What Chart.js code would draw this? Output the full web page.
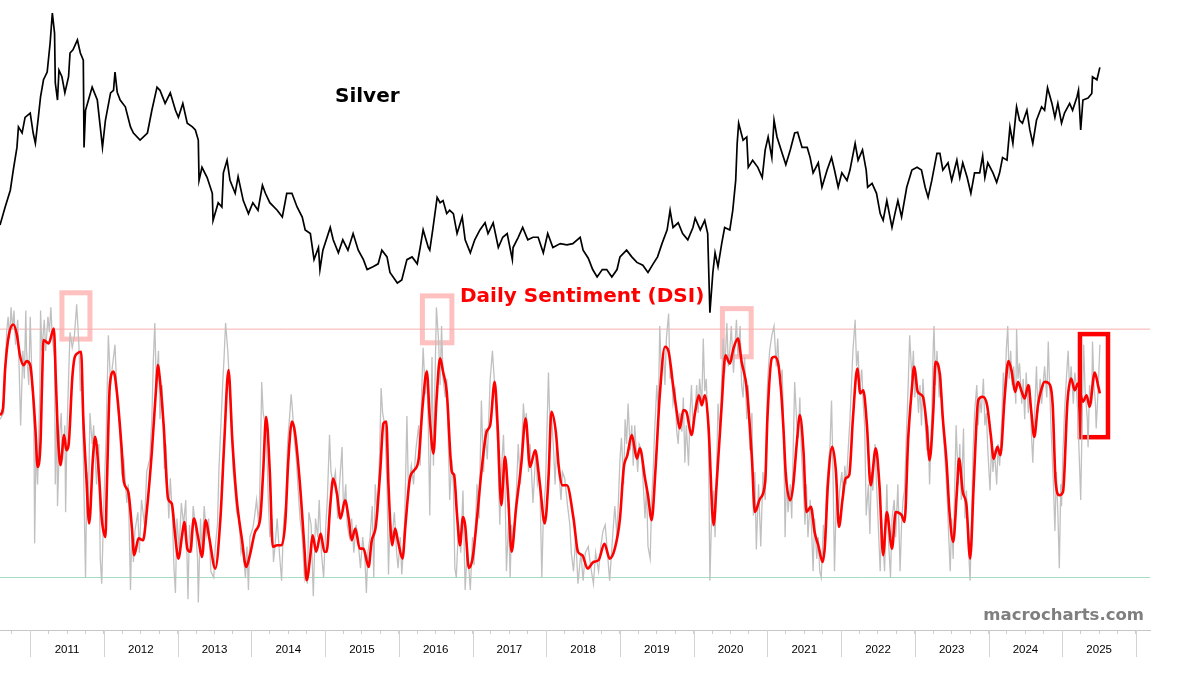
<!DOCTYPE html>
<html>
<head>
<meta charset="utf-8">
<script src="https://cdn.jsdelivr.net/npm/chart.js@4.4.1/dist/chart.umd.min.js"></script>
<style>
  html, body { margin: 0; padding: 0; background: #fff; }
  #wrap { width: 1200px; height: 675px; }
</style>
</head>
<body>
<div id="wrap"><canvas id="chart" width="1200" height="675"></canvas></div>
<script>
// silver price (USD, log scale), decimal years
const silverT = [
  2010.59,2010.66,2010.73,2010.77,2010.82,2010.84,2010.89,2010.93,2011.00,2011.04,
  2011.07,2011.11,2011.14,2011.18,2011.23,2011.27,2011.30,2011.33,2011.34,2011.37,
  2011.39,2011.43,2011.47,2011.52,2011.54,2011.58,2011.64,2011.68,2011.72,2011.73,
  2011.75,2011.79,2011.84,2011.91,2011.95,2011.98,2012.02,2012.09,2012.13,2012.15,
  2012.18,2012.22,2012.29,2012.36,2012.40,2012.49,2012.59,2012.65,2012.72,2012.76,
  2012.83,2012.90,2012.97,2013.01,2013.07,2013.13,2013.20,2013.24,2013.28,2013.29,
  2013.33,2013.40,2013.47,2013.48,2013.55,2013.60,2013.62,2013.67,2013.71,2013.78,
  2013.82,2013.89,2013.96,2014.02,2014.09,2014.15,2014.19,2014.25,2014.35,2014.42,
  2014.48,2014.55,2014.62,2014.69,2014.73,2014.80,2014.85,2014.91,2014.93,2014.97,
  2015.07,2015.11,2015.18,2015.24,2015.31,2015.38,2015.45,2015.52,2015.57,2015.65,
  2015.72,2015.77,2015.84,2015.88,2015.98,2016.04,2016.11,2016.18,2016.25,2016.29,
  2016.33,2016.40,2016.42,2016.46,2016.52,2016.56,2016.60,2016.65,2016.69,2016.74,
  2016.79,2016.86,2016.90,2016.97,2017.03,2017.10,2017.17,2017.21,2017.28,2017.35,
  2017.41,2017.47,2017.54,2017.55,2017.62,2017.68,2017.75,2017.82,2017.89,2017.96,
  2018.02,2018.09,2018.19,2018.28,2018.36,2018.46,2018.50,2018.57,2018.63,2018.69,
  2018.76,2018.82,2018.89,2018.96,2019.00,2019.09,2019.16,2019.23,2019.31,2019.38,
  2019.45,2019.51,2019.57,2019.64,2019.68,2019.72,2019.79,2019.85,2019.92,2019.99,
  2020.02,2020.09,2020.15,2020.19,2020.22,2020.26,2020.29,2020.33,2020.38,2020.42,
  2020.49,2020.53,2020.57,2020.59,2020.61,2020.67,2020.72,2020.74,2020.80,2020.87,
  2020.93,2020.97,2021.01,2021.06,2021.09,2021.13,2021.20,2021.25,2021.31,2021.37,
  2021.41,2021.47,2021.54,2021.58,2021.62,2021.69,2021.74,2021.81,2021.87,2021.91,
  2021.96,2022.01,2022.08,2022.12,2022.19,2022.23,2022.29,2022.34,2022.36,2022.42,
  2022.48,2022.53,2022.57,2022.62,2022.69,2022.73,2022.77,2022.82,2022.89,2022.96,
  2023.03,2023.09,2023.14,2023.18,2023.23,2023.30,2023.34,2023.38,2023.45,2023.50,
  2023.57,2023.61,2023.65,2023.71,2023.76,2023.81,2023.88,2023.92,2023.95,2023.99,
  2024.06,2024.11,2024.15,2024.19,2024.25,2024.29,2024.33,2024.38,2024.42,2024.46,
  2024.52,2024.56,2024.60,2024.65,2024.72,2024.76,2024.80,2024.86,2024.90,2024.94,
  2024.99,2025.03,2025.10,2025.14,2025.20,2025.22,2025.25,2025.28,2025.35,2025.40,
  2025.41,2025.47,2025.51
];
const silverPrice = [
  18.4,20.0,21.6,23.7,26.3,28.9,28.1,30.2,30.8,28.1,
  26.8,30.2,33.2,35.9,37.2,42.5,48.8,44.5,35.4,32.7,
  37.5,36.4,33.8,36.4,40.6,41.2,43.1,40.6,39.3,26.3,
  31.2,32.7,34.7,32.7,28.9,26.3,29.8,33.8,34.2,37.2,
  33.9,32.7,31.7,28.9,28.1,27.2,28.1,31.2,34.7,34.2,
  32.2,33.8,31.2,30.2,32.2,29.4,28.9,28.5,27.2,22.6,
  24.0,22.9,21.3,18.8,20.4,20.0,23.4,24.8,22.6,21.3,
  23.0,20.6,19.4,20.4,19.7,22.1,21.3,20.4,19.7,19.1,
  21.3,21.3,20.0,19.1,18.0,17.7,15.7,16.6,15.0,16.4,
  18.2,17.2,16.2,17.2,16.4,17.7,16.4,15.7,15.0,15.2,
  15.4,16.4,15.9,14.8,14.1,14.3,15.7,15.9,15.4,16.6,
  18.0,16.6,16.4,18.0,20.9,20.4,20.6,19.4,19.7,19.4,
  17.7,19.1,17.2,16.2,17.2,18.0,18.6,17.7,18.6,16.6,
  17.4,17.7,15.7,16.6,17.4,18.2,17.2,17.4,17.4,16.2,
  17.7,16.6,16.9,16.8,16.9,17.4,16.4,15.8,15.0,14.5,
  15.0,15.0,14.5,15.0,15.9,16.4,15.9,15.5,15.3,14.8,
  15.4,15.9,16.9,18.0,19.7,18.2,18.6,17.7,17.2,18.2,
  19.0,18.0,18.8,17.7,12.3,14.8,16.2,15.2,16.9,18.2,
  18.0,19.7,22.6,26.8,29.4,27.2,27.6,24.0,24.8,24.0,
  22.9,26.0,27.6,25.1,29.8,27.6,25.6,24.3,26.0,28.1,
  28.2,26.3,26.3,25.1,23.4,24.5,21.9,23.7,25.1,23.7,
  21.9,23.4,22.6,23.7,26.8,24.8,26.0,23.7,21.9,22.3,
  21.3,19.4,18.8,20.6,18.2,19.4,20.6,19.1,21.9,23.7,
  24.0,23.7,21.9,20.9,22.6,25.6,25.6,23.7,24.5,22.6,
  24.8,22.9,24.5,22.9,21.3,23.4,23.4,25.3,22.9,24.5,
  23.4,22.4,23.4,25.1,24.8,28.9,26.8,31.7,29.8,29.4,
  31.2,28.5,26.8,29.8,31.7,31.2,34.6,32.2,30.2,32.2,
  29.4,30.8,32.2,31.2,33.2,34.2,28.5,32.7,33.0,33.7,
  36.4,35.9,38.0
];

// DSI smoothed (red)
const dsiT = [
  2010.59,2010.63,2010.66,2010.71,2010.77,2010.82,2010.86,2010.91,2010.95,2011.00,
  2011.04,2011.07,2011.10,2011.14,2011.16,2011.18,2011.25,2011.32,2011.35,2011.38,
  2011.41,2011.46,2011.49,2011.52,2011.57,2011.60,2011.64,2011.69,2011.72,2011.76,
  2011.80,2011.85,2011.88,2011.93,2011.97,2012.02,2012.04,2012.08,2012.13,2012.18,
  2012.24,2012.27,2012.33,2012.38,2012.41,2012.47,2012.53,2012.58,2012.65,2012.71,
  2012.73,2012.76,2012.81,2012.87,2012.92,2012.97,2013.01,2013.06,2013.09,2013.13,
  2013.17,2013.22,2013.28,2013.33,2013.38,2013.43,2013.51,2013.58,2013.63,2013.69,
  2013.74,2013.80,2013.87,2013.93,2013.98,2014.05,2014.12,2014.16,2014.20,2014.25,
  2014.29,2014.35,2014.41,2014.46,2014.50,2014.55,2014.59,2014.66,2014.72,2014.75,
  2014.80,2014.83,2014.88,2014.94,2014.99,2015.02,2015.07,2015.11,2015.16,2015.21,
  2015.27,2015.32,2015.36,2015.41,2015.47,2015.52,2015.59,2015.63,2015.69,2015.75,
  2015.79,2015.83,2015.86,2015.91,2015.95,2015.99,2016.05,2016.09,2016.15,2016.21,
  2016.27,2016.32,2016.38,2016.42,2016.47,2016.51,2016.56,2016.60,2016.65,2016.72,
  2016.75,2016.79,2016.83,2016.87,2016.90,2016.95,2017.00,2017.06,2017.12,2017.19,
  2017.24,2017.30,2017.34,2017.39,2017.44,2017.48,2017.53,2017.59,2017.66,2017.72,
  2017.78,2017.85,2017.91,2017.98,2018.03,2018.07,2018.13,2018.17,2018.22,2018.28,
  2018.37,2018.43,2018.49,2018.56,2018.64,2018.71,2018.79,2018.86,2018.93,2019.00,
  2019.05,2019.10,2019.16,2019.23,2019.27,2019.34,2019.38,2019.43,2019.48,2019.54,
  2019.61,2019.66,2019.72,2019.77,2019.81,2019.86,2019.90,2019.97,2020.02,2020.07,
  2020.11,2020.15,2020.20,2020.27,2020.31,2020.38,2020.43,2020.49,2020.54,2020.60,
  2020.65,2020.72,2020.79,2020.83,2020.90,2020.97,2021.00,2021.06,2021.10,2021.15,
  2021.19,2021.22,2021.25,2021.31,2021.35,2021.40,2021.44,2021.49,2021.53,2021.59,
  2021.64,2021.69,2021.75,2021.78,2021.82,2021.88,2021.93,2021.97,2022.02,2022.06,
  2022.11,2022.16,2022.22,2022.26,2022.30,2022.35,2022.40,2022.47,2022.52,2022.57,
  2022.62,2022.69,2022.74,2022.82,2022.86,2022.91,2022.96,2022.99,2023.04,2023.11,
  2023.16,2023.20,2023.25,2023.28,2023.34,2023.38,2023.43,2023.47,2023.52,2023.57,
  2023.60,2023.65,2023.70,2023.75,2023.80,2023.86,2023.92,2023.98,2024.03,2024.07,
  2024.12,2024.16,2024.22,2024.27,2024.31,2024.36,2024.40,2024.45,2024.49,2024.54,
  2024.58,2024.62,2024.67,2024.72,2024.76,2024.82,2024.87,2024.91,2024.96,2025.01,
  2025.07,2025.12,2025.17,2025.21,2025.28,2025.33,2025.37,2025.44,2025.49,2025.51
];
const dsiSmooth = [
  62.3,64.4,77.3,88.1,91.5,88.1,81.6,78.4,79.7,78.4,
  68.7,58.0,45.6,53.7,72.0,86.5,85.4,90.2,72.0,53.7,
  46.2,55.9,51.0,52.6,74.1,80.6,82.2,82.7,61.2,43.0,
  27.4,48.3,55.3,44.0,29.0,23.1,39.7,72.0,76.3,68.7,
  51.6,40.8,37.6,25.8,17.2,22.6,22.0,31.1,50.5,72.0,
  78.4,73.6,59.1,35.4,33.8,22.6,16.1,23.6,27.9,19.3,
  18.3,29.0,22.6,16.6,28.5,22.6,12.9,29.0,52.6,76.8,
  54.8,35.4,22.6,13.4,17.2,24.7,29.0,44.0,61.8,44.0,
  19.9,20.4,20.4,27.9,47.3,60.2,56.9,39.7,19.3,9.1,
  17.2,23.6,18.3,24.2,18.3,18.3,33.3,41.9,37.1,29.0,
  34.9,29.0,22.0,25.8,19.3,19.3,13.4,21.5,26.9,45.1,
  59.6,60.2,39.7,20.4,25.8,21.5,16.1,26.9,41.9,44.6,
  48.3,64.4,76.3,61.2,49.9,66.6,80.6,76.3,69.8,44.0,
  43.0,30.1,20.4,29.5,26.9,13.1,16.1,29.0,44.0,56.9,
  59.1,73.0,59.1,33.3,48.9,37.6,18.3,32.2,46.2,61.2,
  45.6,51.0,40.8,27.4,41.9,63.4,56.9,45.6,39.7,39.7,
  29.0,18.3,17.2,12.9,15.0,15.6,20.9,16.1,19.3,29.0,
  45.1,49.4,55.9,48.3,51.6,41.9,36.5,28.5,44.0,68.7,
  84.3,82.7,72.0,63.4,58.0,63.9,63.4,55.9,63.4,68.7,
  65.5,68.7,59.1,26.9,39.7,65.5,81.6,78.9,83.8,87.0,
  79.5,70.9,48.3,31.1,35.4,40.8,61.2,80.6,81.1,78.4,
  68.7,56.9,43.0,34.9,39.7,53.7,62.3,50.5,31.1,32.8,
  24.7,20.4,15.0,20.4,39.7,52.1,44.0,26.3,35.4,41.9,
  43.0,61.2,77.3,69.3,70.3,59.1,39.7,51.6,39.7,17.2,
  31.1,19.3,31.1,30.1,27.9,54.8,70.9,77.9,69.8,68.2,
  59.1,47.8,63.4,79.5,75.2,61.2,47.3,31.1,21.5,37.6,
  48.3,37.6,33.3,16.1,40.8,67.1,68.2,65.5,55.9,48.3,
  52.1,49.4,68.7,79.7,76.8,69.8,73.0,69.8,67.7,72.0,
  63.4,55.3,65.5,70.9,73.0,72.5,65.5,40.8,36.5,37.6,
  66.6,74.1,70.3,72.5,66.6,68.7,65.0,76.0,71.4,69.3
];

// DSI raw daily readings (grey)
const rawT = [
  2010.59,2010.64,2010.68,2010.70,2010.72,2010.74,2010.76,2010.78,2010.80,2010.83,
  2010.85,2010.87,2010.90,2010.92,2010.94,2010.95,2010.98,2011.00,2011.02,2011.05,
  2011.06,2011.08,2011.10,2011.13,2011.14,2011.16,2011.19,2011.21,2011.24,2011.26,
  2011.28,2011.30,2011.33,2011.34,2011.36,2011.37,2011.40,2011.42,2011.44,2011.47,
  2011.48,2011.50,2011.52,2011.54,2011.57,2011.60,2011.63,2011.66,2011.68,2011.70,
  2011.72,2011.75,2011.77,2011.79,2011.81,2011.84,2011.86,2011.90,2011.93,2011.95,
  2011.97,2012.00,2012.03,2012.06,2012.09,2012.11,2012.15,2012.18,2012.21,2012.24,
  2012.27,2012.31,2012.33,2012.36,2012.38,2012.40,2012.42,2012.46,2012.48,2012.51,
  2012.55,2012.58,2012.62,2012.65,2012.67,2012.69,2012.71,2012.74,2012.76,2012.79,
  2012.82,2012.84,2012.88,2012.90,2012.93,2012.95,2012.97,2012.99,2013.02,2013.05,
  2013.08,2013.11,2013.14,2013.16,2013.19,2013.21,2013.24,2013.27,2013.28,2013.31,
  2013.33,2013.36,2013.39,2013.42,2013.45,2013.49,2013.51,2013.54,2013.56,2013.59,
  2013.61,2013.63,2013.65,2013.68,2013.70,2013.73,2013.75,2013.77,2013.80,2013.83,
  2013.86,2013.88,2013.92,2013.94,2013.96,2013.98,2014.02,2014.04,2014.07,2014.10,
  2014.12,2014.14,2014.16,2014.19,2014.21,2014.23,2014.25,2014.28,2014.30,2014.32,
  2014.35,2014.38,2014.41,2014.44,2014.47,2014.49,2014.51,2014.54,2014.56,2014.58,
  2014.61,2014.63,2014.66,2014.69,2014.72,2014.74,2014.76,2014.78,2014.81,2014.84,
  2014.87,2014.90,2014.92,2014.95,2014.98,2015.01,2015.03,2015.06,2015.08,2015.11,
  2015.14,2015.17,2015.19,2015.23,2015.25,2015.28,2015.30,2015.33,2015.36,2015.39,
  2015.42,2015.45,2015.48,2015.51,2015.54,2015.56,2015.58,2015.61,2015.64,2015.66,
  2015.68,2015.71,2015.74,2015.76,2015.78,
  2015.81,2015.84,2015.86,2015.88,2015.91,2015.94,2015.97,2015.99,2016.02,2016.04,
  2016.06,2016.08,2016.11,2016.13,2016.17,2016.20,2016.23,2016.27,2016.29,2016.31,
  2016.33,2016.36,2016.38,2016.40,2016.42,2016.45,2016.47,2016.49,2016.51,2016.54,
  2016.56,2016.58,2016.60,2016.63,2016.65,2016.67,2016.69,2016.72,2016.74,2016.76,
  2016.78,2016.81,2016.84,2016.87,2016.90,2016.93,2016.97,2017.00,2017.02,2017.06,
  2017.09,2017.12,2017.15,2017.17,2017.20,2017.24,2017.27,2017.30,2017.34,2017.37,
  2017.39,2017.42,2017.44,2017.46,2017.49,2017.51,2017.53,2017.55,2017.59,2017.62,
  2017.65,2017.69,2017.71,2017.73,2017.76,2017.78,2017.80,2017.82,2017.86,2017.88,
  2017.91,2017.94,2017.96,2017.99,2018.03,2018.05,2018.07,2018.10,2018.12,2018.14,
  2018.16,2018.20,2018.22,2018.25,2018.29,2018.32,2018.34,2018.37,2018.40,2018.43,
  2018.47,2018.50,2018.53,2018.57,2018.60,2018.64,2018.67,2018.71,2018.74,2018.77,
  2018.80,2018.83,2018.86,2018.90,2018.93,2018.96,2019.00,2019.02,2019.05,2019.07,
  2019.09,2019.11,2019.14,2019.16,2019.18,2019.20,2019.24,2019.26,2019.29,2019.32,
  2019.34,2019.36,2019.38,2019.41,2019.43,2019.45,2019.47,2019.50,2019.52,2019.54,
  2019.56,2019.59,2019.61,2019.63,2019.66,2019.68,2019.70,2019.72,2019.75,2019.77,
  2019.79,2019.81,2019.84,2019.86,2019.88,2019.90,2019.93,2019.95,2019.97,2019.99,
  2020.02,2020.04,2020.06,2020.08,2020.11,2020.13,2020.15,2020.17,2020.20,2020.22,
  2020.24,2020.27,2020.29,2020.31,2020.33,2020.36,2020.38,2020.40,2020.42,2020.45,
  2020.47,2020.49,2020.51,2020.54,2020.56,2020.58,2020.60,2020.63,2020.65,2020.67,
  2020.69,2020.72,2020.74,2020.76,2020.79,2020.81,2020.83,2020.85,2020.88,2020.91,
  2020.94,2020.97,2021.00,
  2021.03,2021.06,2021.09,2021.12,2021.14,2021.17,2021.20,2021.22,2021.24,2021.26,
  2021.28,2021.31,2021.33,2021.35,2021.37,2021.40,2021.42,2021.44,2021.46,2021.49,
  2021.51,2021.53,2021.55,2021.58,2021.60,2021.62,2021.64,2021.67,2021.69,2021.71,
  2021.73,2021.76,2021.78,2021.80,2021.82,2021.85,2021.87,2021.89,2021.91,2021.94,
  2021.96,2021.98,2022.01,2022.03,2022.05,2022.07,2022.10,2022.12,2022.14,2022.16,
  2022.19,2022.21,2022.23,2022.25,2022.28,2022.30,2022.32,2022.34,2022.37,2022.39,
  2022.41,2022.43,2022.46,2022.48,2022.50,2022.53,2022.55,2022.57,2022.59,2022.62,
  2022.64,2022.67,2022.69,2022.72,2022.74,2022.77,2022.80,2022.82,2022.84,2022.86,
  2022.89,2022.91,2022.93,2022.96,2022.98,2023.00,2023.02,2023.05,2023.07,2023.09,
  2023.11,2023.14,2023.16,2023.18,2023.20,2023.23,2023.25,2023.26,2023.28,2023.30,
  2023.33,2023.35,2023.37,2023.39,2023.42,2023.44,2023.46,2023.48,2023.50,2023.52,
  2023.54,2023.56,2023.59,2023.61,2023.63,2023.66,2023.68,2023.70,2023.72,2023.75,
  2023.77,2023.79,2023.81,2023.84,2023.86,2023.88,2023.90,2023.93,2023.95,2023.97,
  2023.99,2024.02,2024.04,2024.06,2024.08,2024.11,2024.13,2024.15,2024.18,2024.20,
  2024.22,2024.24,2024.26,2024.28,2024.30,2024.32,2024.34,2024.37,2024.38,2024.40,
  2024.42,2024.45,2024.47,2024.49,2024.51,2024.54,2024.56,2024.58,2024.60,2024.63,
  2024.65,2024.67,2024.70,2024.72,2024.74,2024.76,2024.79,2024.81,2024.83,2024.85,
  2024.88,2024.90,2024.92,2024.94,2024.96,2024.98,2024.99,2025.01,2025.03,2025.06,
  2025.08,2025.10,2025.12,2025.15,2025.17,2025.19,2025.21,2025.25,2025.27,2025.29,
  2025.31,2025.34,2025.35,2025.37,2025.40,2025.41,2025.43,2025.45,2025.46,2025.49,
  2025.51
];
const rawDsi = [
  61,63,89,94,87,97,90,96,85,93,
  77,59,83,74,96,83,72,94,77,59,
  21,53,40,70,96,83,93,83,94,89,
  97,87,81,40,63,33,56,63,48,59,
  31,58,74,89,84,88,98,85,70,77,
  50,10,44,34,63,53,59,40,53,16,
  8,35,56,88,72,77,85,67,59,44,
  48,34,40,6,27,15,25,31,18,35,
  27,44,48,61,80,92,72,83,61,72,
  45,53,29,42,29,13,5,29,19,34,
  27,35,3,27,18,33,27,16,2,29,
  18,33,24,29,12,10,20,27,45,61,
  72,81,92,83,74,63,45,40,31,29,
  18,20,10,20,6,23,26,29,35,27,
  44,73,63,59,50,35,23,29,15,20,
  29,18,9,29,34,53,59,69,63,55,
  48,40,29,23,10,13,8,31,27,4,
  29,23,35,18,10,27,35,56,44,40,
  44,29,38,52,31,40,27,23,29,18,
  27,21,13,23,16,5,18,23,33,10,
  40,29,50,71,63,
  59,40,11,29,23,31,18,13,23,11,
  18,29,62,38,46,40,51,59,46,70,
  84,69,77,59,30,81,46,72,97,86,
  72,91,74,68,74,56,35,48,40,13,
  10,27,18,38,6,20,6,23,14,40,
  29,67,44,58,48,74,83,72,53,27,
  44,56,40,12,29,10,27,20,35,53,
  40,66,59,63,44,53,44,34,51,40,
  44,10,29,40,76,59,63,51,40,53,
  48,35,44,42,33,27,18,12,23,8,
  18,9,18,20,14,8,18,12,20,25,
  27,18,9,23,33,23,48,55,40,61,
  53,66,51,59,46,59,44,53,51,38,
  29,40,20,16,35,44,57,72,63,91,
  76,83,72,87,95,74,78,66,70,57,
  53,63,57,68,47,59,46,63,72,59,
  63,72,63,74,66,87,70,74,55,9,
  27,38,23,44,66,55,74,87,76,92,
  78,83,91,76,85,93,81,91,72,68,
  81,61,72,51,63,30,44,19,40,20,
  44,35,72,
  83,88,91,78,87,72,77,59,23,44,
  31,40,29,51,73,59,55,68,51,38,
  27,40,23,35,25,12,29,16,23,12,
  10,27,18,38,44,53,67,44,12,40,
  29,38,44,35,46,40,53,61,72,83,
  93,78,83,70,77,66,59,30,40,24,
  44,38,53,40,29,12,29,20,12,40,
  23,10,29,35,23,40,12,27,35,38,
  59,72,88,74,83,68,76,63,72,59,
  74,61,51,59,40,63,85,91,72,83,
  68,76,63,55,44,35,23,12,29,16,
  38,59,40,53,35,58,29,38,23,9,
  29,51,63,72,59,68,63,74,59,63,
  51,38,53,44,51,40,53,46,61,76,
  66,83,91,74,83,72,78,66,90,74,
  79,66,74,61,76,63,72,57,47,66,
  78,63,74,66,72,78,68,86,70,57,
  40,25,44,31,13,40,33,51,63,76,
  83,70,78,66,76,72,63,35,61,85,
  70,61,52,72,66,86,72,66,58,72,
  85
];

// x-axis year labels and sentiment guide levels
const yearLabels = [2011,2012,2013,2014,2015,2016,2017,2018,2019,2020,2021,2022,2023,2024,2025];
const dsiHigh = 90;
const dsiLow = 10;

// highlighted sentiment extremes: [start year, end year, DSI top, DSI bottom]
const pinkBoxes = [
  [2011.43, 2011.81, 101.7, 86.8],
  [2016.32, 2016.72, 100.7, 85.6],
  [2020.39, 2020.78, 96.6, 81.1]
];
const currentBox = [2025.24, 2025.62, 88.4, 55.2];

const xMin = 2010.59, xMax = 2026.19;

function pairs(ts, vs) {
  const n = Math.min(ts.length, vs.length);
  const out = [];
  for (let i = 0; i < n; i++) out.push({ x: ts[i], y: vs[i] });
  return out;
}

const decorations = {
  id: 'decorations',
  beforeDatasetsDraw(chart) {
    const { ctx } = chart;
    const x = chart.scales.x, y = chart.scales.yD;
    const rect = (b, color, w) => {
      const x0 = x.getPixelForValue(b[0]), x1 = x.getPixelForValue(b[1]);
      const y0 = y.getPixelForValue(b[2]), y1 = y.getPixelForValue(b[3]);
      ctx.save();
      ctx.strokeStyle = color;
      ctx.lineWidth = w;
      ctx.strokeRect(x0, y0, x1 - x0, y1 - y0);
      ctx.restore();
    };
    pinkBoxes.forEach(b => rect(b, '#ffc0c0', 5));
    rect(currentBox, '#ff0000', 4.5);
  },
  afterDraw(chart) {
    const { ctx, chartArea } = chart;
    const x = chart.scales.x;
    ctx.save();
    // long year separators below the axis
    ctx.strokeStyle = '#d3d3d3';
    ctx.lineWidth = 1;
    for (let yr = 2011; yr <= 2026; yr++) {
      const px = Math.round(x.getPixelForValue(yr)) + 0.5;
      ctx.beginPath();
      ctx.moveTo(px, chartArea.bottom);
      ctx.lineTo(px, chartArea.bottom + 27);
      ctx.stroke();
    }
    ctx.textBaseline = 'middle';
    ctx.textAlign = 'left';
    ctx.font = 'bold 20px "DejaVu Sans"';
    ctx.fillStyle = '#000000';
    ctx.fillText('Silver', 335, 97);
    ctx.fillStyle = '#ff0000';
    ctx.fillText('Daily Sentiment (DSI)', 460, 297);
    ctx.font = 'bold 16.5px "DejaVu Sans"';
    ctx.fillStyle = '#7f7f7f';
    ctx.textAlign = 'right';
    ctx.fillText('macrocharts.com', 1144, 616);
    ctx.restore();
  }
};

new Chart(document.getElementById('chart'), {
  type: 'line',
  data: {
    datasets: [
      { label: 'Silver', data: pairs(silverT, silverPrice), yAxisID: 'yS',
        borderColor: '#000000', borderWidth: 1.7, order: 0 },
      { label: 'DSI smoothed', data: pairs(dsiT, dsiSmooth), yAxisID: 'yD',
        borderColor: '#ff0000', borderWidth: 2.6, cubicInterpolationMode: 'monotone', order: 1 },
      { label: 'DSI', data: pairs(rawT, rawDsi), yAxisID: 'yD',
        borderColor: '#c0c0c0', borderWidth: 1.3, order: 2 },
      { label: 'High', data: [{ x: xMin, y: dsiHigh }, { x: xMax, y: dsiHigh }], yAxisID: 'yD',
        borderColor: '#f8b0b0', borderWidth: 1, order: 3 },
      { label: 'Low', data: [{ x: xMin, y: dsiLow }, { x: xMax, y: dsiLow }], yAxisID: 'yD',
        borderColor: '#a6dcbf', borderWidth: 1, order: 3 }
    ]
  },
  options: {
    responsive: false,
    animation: false,
    devicePixelRatio: 1,
    elements: { point: { radius: 0 }, line: { tension: 0, fill: false } },
    layout: { padding: { left: 0, right: 50, top: 0, bottom: 0 } },
    plugins: { legend: { display: false }, tooltip: { enabled: false }, title: { display: false } },
    scales: {
      x: {
        type: 'linear', min: xMin, max: xMax, bounds: 'data',
        afterBuildTicks(scale) {
          const t = [];
          for (let yr = 2010; yr <= 2026; yr++) {
            for (let q = 0; q < 4; q++) {
              const v = yr + q / 4;
              if (v >= xMin && v <= xMax) t.push({ value: v });
            }
          }
          scale.ticks = t;
        },
        afterFit(scale) { scale.height = 45; },
        grid: { drawOnChartArea: false, drawTicks: true, tickLength: 4, color: '#cfcfcf', lineWidth: 1 },
        border: { display: true, color: '#c6c6c6', width: 1 },
        ticks: {
          autoSkip: false, maxRotation: 0, minRotation: 0, padding: 9,
          color: '#000000', font: { family: 'Liberation Sans', size: 11.5 },
          callback(v) {
            const yr = Math.floor(v + 1e-9);
            return (Math.abs(v - yr - 0.5) < 1e-6 && yearLabels.includes(yr)) ? String(yr) : '';
          }
        }
      },
      yS: { type: 'logarithmic', display: false, min: 2.86, max: 51.8, bounds: 'data' },
      yD: { type: 'linear', display: false, min: -6.9, max: 196, bounds: 'data' }
    }
  },
  plugins: [decorations]
});
</script>
</body>
</html>
